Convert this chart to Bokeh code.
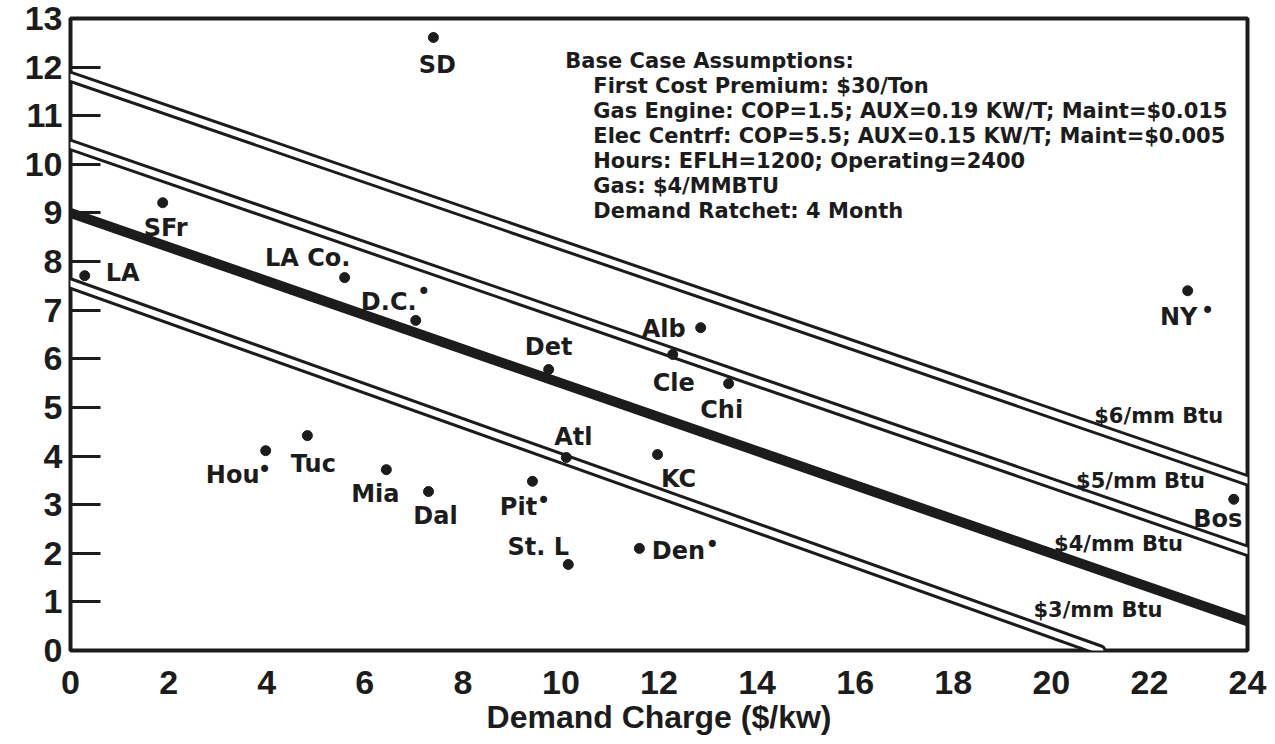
from bokeh.plotting import figure
from bokeh.models import Range1d, ColumnDataSource, FixedTicker
from bokeh.core.properties import value
from bokeh.embed import file_html
from bokeh.resources import INLINE

# ---------------- data ----------------
cities = ["SD", "SFr", "LA", "LA Co.", "D.C.", "Det", "Alb", "Cle", "Chi", "Atl",
          "KC", "Hou", "Tuc", "Mia", "Dal", "Pit", "St. L", "Den", "NY", "Bos"]
demand_charge = [7.40, 1.88, 0.29, 5.59, 7.04, 9.75, 12.85, 12.28, 13.42, 10.11,
                 11.97, 3.98, 4.83, 6.44, 7.30, 9.42, 10.15, 11.60, 22.78, 23.72]
breakeven = [12.61, 9.21, 7.71, 7.67, 6.79, 5.78, 6.64, 6.09, 5.49, 3.97,
             4.03, 4.11, 4.42, 3.72, 3.27, 3.48, 1.77, 2.10, 7.40, 3.11]
marked = ["D.C.", "Hou", "Pit", "Den", "NY"]

gas_labels = ["$3/mm Btu", "$4/mm Btu", "$5/mm Btu", "$6/mm Btu"]
line_x_start = [0.0, 0.0, 0.0, 0.0]
line_y_start = [7.55, 9.0, 10.4, 11.8]
line_x_end = [21.0, 24.0, 24.0, 24.0]
line_y_end = [0.0, 0.6, 2.05, 3.5]

x_ticks = list(range(0, 25, 2))
y_ticks = list(range(0, 14))

assumptions_title = "Base Case Assumptions:"
assumptions = [
    "First Cost Premium:  $30/Ton",
    "Gas Engine:  COP=1.5; AUX=0.19 KW/T; Maint=$0.015",
    "Elec Centrf:  COP=5.5; AUX=0.15 KW/T; Maint=$0.005",
    "Hours:  EFLH=1200; Operating=2400",
    "Gas:  $4/MMBTU",
    "Demand Ratchet:  4 Month",
]
x_label = "Demand Charge ($/kw)"

# ---------------- layout / style ----------------
INK = "#1c1c1c"
FONT = "Liberation Sans"
HEAVY = "DejaVu Sans"

# label offsets (screen px) relative to each city's dot
label_offsets = {
    "SD": (4, 28), "SFr": (3, 25), "LA": (38, -3), "LA Co.": (-37, -20),
    "D.C.": (-27, -18), "Det": (0, -23), "Alb": (-37, 1), "Cle": (1, 29),
    "Chi": (-7, 26), "Atl": (7, -20), "KC": (21, 24), "Hou": (-33, 24),
    "Tuc": (6, 28), "Mia": (-11, 24), "Dal": (7, 24), "Pit": (-14, 26),
    "St. L": (-30, -17), "Den": (39, 3), "NY": (-9, 26), "Bos": (-16, 20),
}
mark_offsets = {"D.C.": (8, -28), "Hou": (-1, 19), "Pit": (11, 20),
                "Den": (73, -3), "NY": (20, 20)}
gas_label_x = [20.95, 21.37, 21.82, 22.19]
gas_label_dy = [-40, -33, -33, -34]

p = figure(width=1268, height=740, output_backend="svg", toolbar_location=None,
           x_range=Range1d(0, 24), y_range=Range1d(0, 13), title=None,
           min_border_left=70, min_border_right=21, min_border_top=18,
           min_border_bottom=90, background_fill_color="white",
           border_fill_color="white")
p.grid.visible = False
p.outline_line_color = INK
p.outline_line_width = 4

# axes
p.xaxis.ticker = FixedTicker(ticks=x_ticks)
p.yaxis.ticker = FixedTicker(ticks=y_ticks)
for ax in (p.xaxis[0], p.yaxis[0]):
    ax.axis_line_color = None
    ax.minor_tick_line_color = None
    ax.major_label_text_font = FONT
    ax.major_label_text_font_style = "bold"
    ax.major_label_text_font_size = "34px"
    ax.major_label_text_color = INK
p.xaxis.major_tick_line_color = None
p.xaxis.major_label_standoff = 14
p.xaxis.axis_label = x_label
p.xaxis.axis_label_text_font = FONT
p.xaxis.axis_label_text_font_style = "bold"
p.xaxis.axis_label_text_font_size = "32px"
p.xaxis.axis_label_text_color = INK
p.xaxis.axis_label_standoff = 2
p.yaxis.major_tick_in = 30
p.yaxis.major_tick_out = 0
p.yaxis.major_tick_line_width = 3
p.yaxis.major_tick_line_color = INK
p.yaxis.major_label_standoff = 8

# gas price lines
for i in range(4):
    xs = [line_x_start[i], line_x_end[i]]
    ys = [line_y_start[i], line_y_end[i]]
    if gas_labels[i].startswith("$4"):
        p.line(xs, ys, line_color=INK, line_width=10, line_cap="round")
    else:
        p.line(xs, ys, line_color=INK, line_width=12, line_cap="round")
        p.line(xs, ys, line_color="white", line_width=6, line_cap="round")

# gas line labels
lab_y = []
for i in range(4):
    slope = (line_y_end[i] - line_y_start[i]) / (line_x_end[i] - line_x_start[i])
    lab_y.append(line_y_start[i] + slope * (gas_label_x[i] - line_x_start[i]))
p.text(x=gas_label_x, y=lab_y, text=gas_labels, y_offset=gas_label_dy,
       text_font=value(HEAVY), text_font_style="bold", text_font_size="21px",
       text_color=INK, text_align="center", text_baseline="middle")

# city points
p.scatter(demand_charge, breakeven, size=10, color=INK)
src = ColumnDataSource(dict(
    x=demand_charge, y=breakeven, t=cities,
    dx=[label_offsets[c][0] for c in cities],
    dy=[label_offsets[c][1] for c in cities]))
p.text(x="x", y="y", text="t", x_offset="dx", y_offset="dy", source=src,
       text_font=value(HEAVY), text_font_style="bold", text_font_size="24px",
       text_color=INK, text_align="center", text_baseline="middle")
mk = [cities.index(c) for c in marked]
msrc = ColumnDataSource(dict(
    x=[demand_charge[i] for i in mk], y=[breakeven[i] for i in mk],
    t=["\u2022"] * len(mk),
    dx=[mark_offsets[c][0] for c in marked],
    dy=[mark_offsets[c][1] for c in marked]))
p.text(x="x", y="y", text="t", x_offset="dx", y_offset="dy", source=msrc,
       text_font=value(HEAVY), text_font_size="24px", text_color=INK,
       text_align="center", text_baseline="middle")

# assumptions block
p.text(x=[10.09], y=[12.13], text=[assumptions_title], text_font=value(HEAVY),
       text_font_style="bold", text_font_size="21px", text_color=INK,
       text_align="left", text_baseline="middle")
p.text(x=[10.66] * len(assumptions), y=[12.13] * len(assumptions), text=assumptions,
       y_offset=[25 * (k + 1) for k in range(len(assumptions))],
       text_font=value(HEAVY), text_font_style="bold", text_font_size="21px",
       text_color=INK, text_align="left", text_baseline="middle")

open("out.html", "w").write(file_html(p, INLINE))
